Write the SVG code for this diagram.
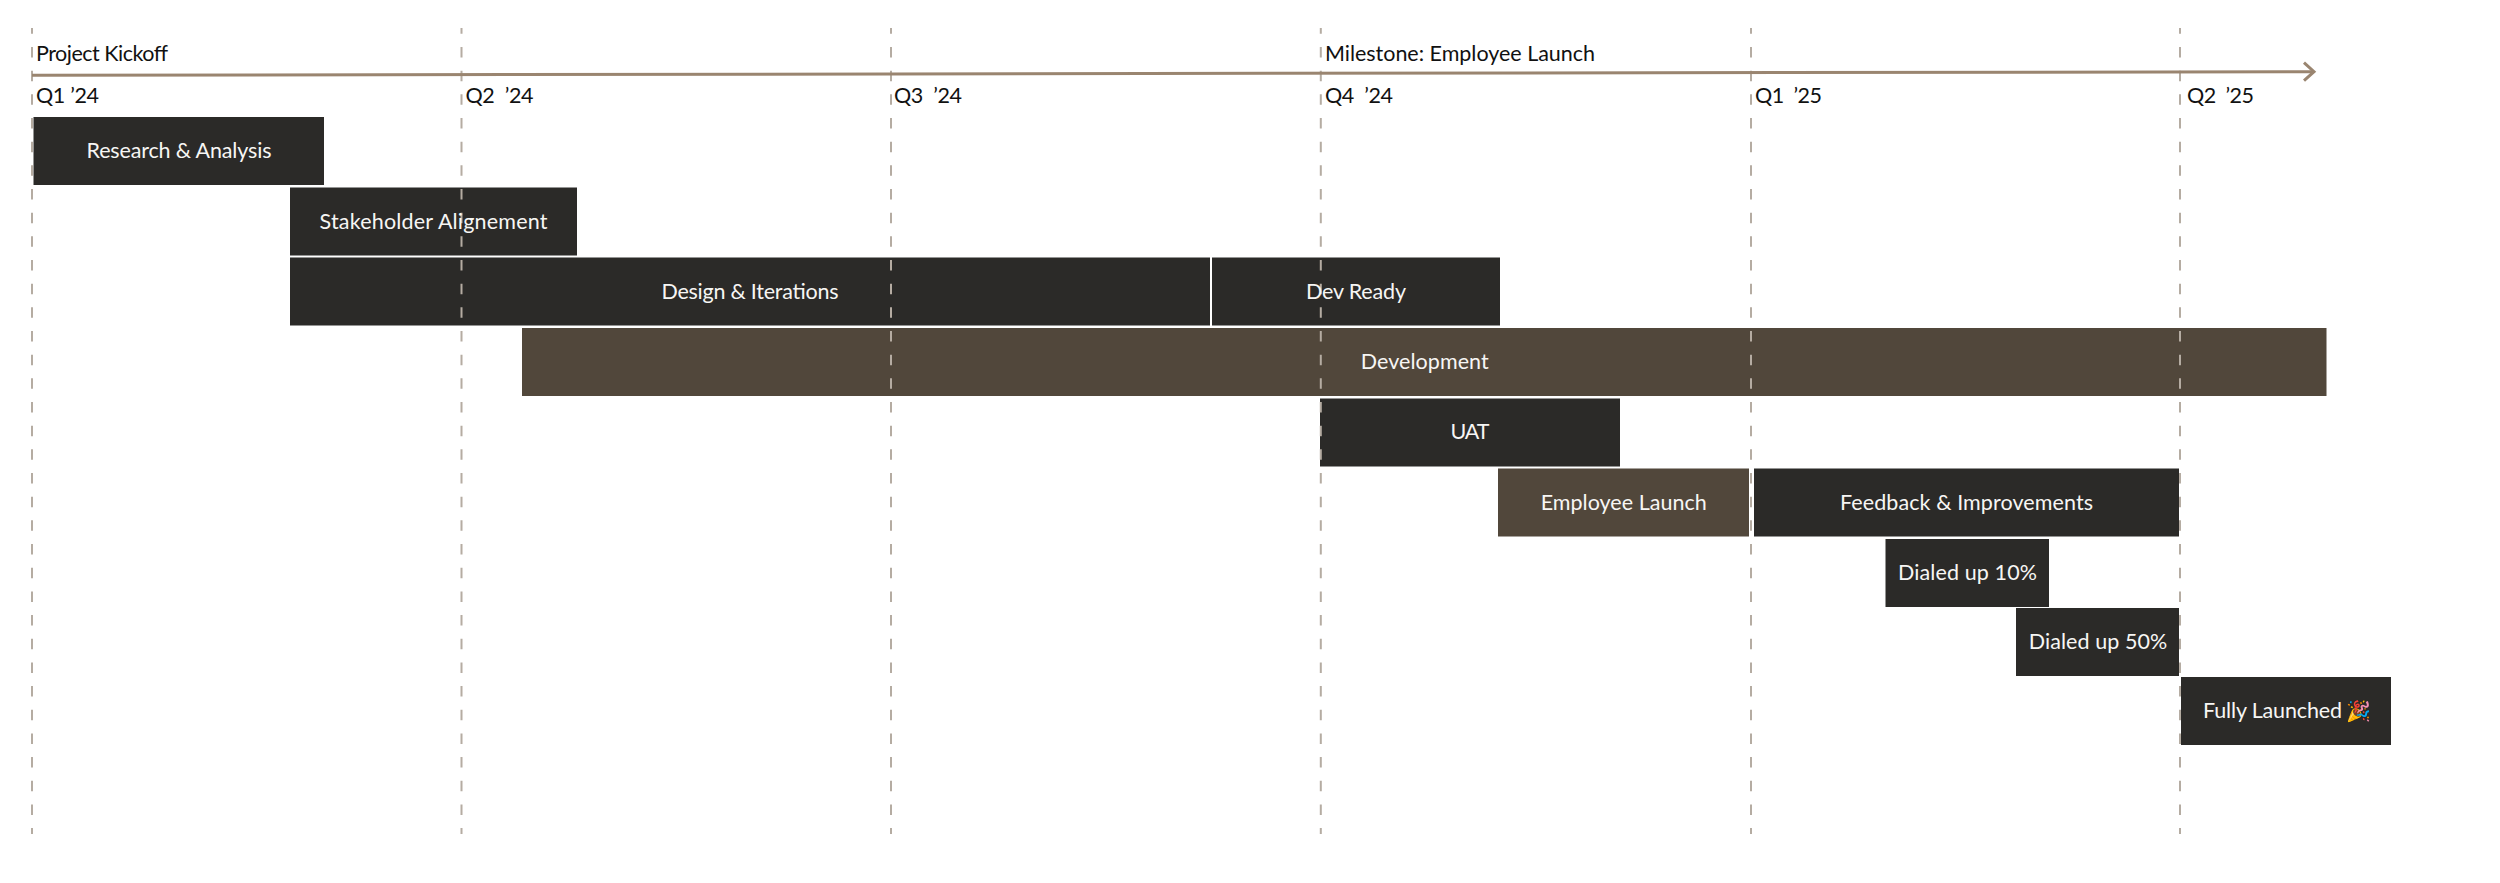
<svg xmlns="http://www.w3.org/2000/svg" width="2500" height="883" viewBox="0 0 2500 883">
<style>
text{font-family:"Lato","Noto Sans",sans-serif;font-size:21.5px;white-space:pre}
.h{fill:#111}
.l{fill:#f7f6f4;text-anchor:middle}
.d{fill:#2b2a28}
.b{fill:#51473b}
.g{stroke:#b5aca2;stroke-width:2;stroke-dasharray:10.5 13.17;stroke-dashoffset:4.7;fill:none}
.a{stroke:#9a8570;stroke-width:3;fill:none}
</style>
<defs><marker id="arrow" markerUnits="userSpaceOnUse" markerWidth="24" markerHeight="26" refX="13" refY="11" orient="auto"><path d="M3 2L13 11L3 20" fill="none" stroke="#9a8570" stroke-width="3"/></marker></defs>
<rect width="2500" height="883" fill="#fff"/>
<g id="bars">
<g id="research"><rect class="d" x="33.5" y="117" width="290.5" height="68"/></g>
<g id="stakeholder"><rect class="d" x="290" y="187.5" width="287" height="68"/></g>
<g id="design"><rect class="d" x="290" y="257.5" width="920" height="68"/></g>
<g id="devready"><rect class="d" x="1212" y="257.5" width="288" height="68"/></g>
<g id="development"><rect class="b" x="522" y="328" width="1804.5" height="68"/></g>
<g id="uat"><rect class="d" x="1320" y="398.5" width="300" height="68"/></g>
<g id="employee"><rect class="b" x="1498" y="468.5" width="251" height="68"/></g>
<g id="feedback"><rect class="d" x="1754" y="468.5" width="425" height="68"/></g>
<g id="dialed10"><rect class="d" x="1885.5" y="539" width="163.5" height="68"/></g>
<g id="dialed50"><rect class="d" x="2016" y="608" width="163" height="68"/></g>
<g id="fully"><rect class="d" x="2181" y="677" width="210" height="68"/></g>
</g>
<g id="connectors">
<path class="g" d="M32 28V834"/><path class="g" d="M461.5 28V834"/><path class="g" d="M891 28V834"/><path class="g" d="M1320.8 28V834"/><path class="g" d="M1751 28V834"/><path class="g" d="M2180 28V834"/>
<path class="a" d="M32 75.3L2314 71.7" marker-end="url(#arrow)"/>
</g>
<g id="labels">
<text class="h" x="36" y="60.7" textLength="132">Project Kickoff</text>
<text class="h" x="1325" y="60.7" textLength="270">Milestone: Employee Launch</text>
<text class="h" x="36" y="102.7" textLength="63">Q1 ’24</text>
<text class="h" x="465.5" y="102.7" textLength="68">Q2  ’24</text>
<text class="h" x="894" y="102.7" textLength="68">Q3  ’24</text>
<text class="h" x="1325" y="102.7" textLength="68">Q4  ’24</text>
<text class="h" x="1755" y="102.7" textLength="67">Q1  ’25</text>
<text class="h" x="2187" y="102.7" textLength="67">Q2  ’25</text>
<text class="l" x="179" y="158" textLength="185">Research &amp; Analysis</text>
<text class="l" x="433.5" y="228.5" textLength="228">Stakeholder Alignement</text>
<text class="l" x="750" y="298.5" textLength="177">Design &amp; Iterations</text>
<text class="l" x="1356" y="298.5" textLength="100">Dev Ready</text>
<text class="l" x="1424.7" y="369" textLength="128">Development</text>
<text class="l" x="1470" y="439" textLength="39">UAT</text>
<text class="l" x="1623.7" y="509.5" textLength="166">Employee Launch</text>
<text class="l" x="1966.5" y="509.5" textLength="253">Feedback &amp; Improvements</text>
<text class="l" x="1967.5" y="580" textLength="139">Dialed up 10%</text>
<text class="l" x="2098" y="649" textLength="138.5">Dialed up 50%</text>
<text class="h" style="fill:#f7f6f4" x="2203" y="718"><tspan textLength="139">Fully Launched</tspan><tspan x="2346" style="font-size:20px">🎉</tspan></text>
</g>
</svg>
